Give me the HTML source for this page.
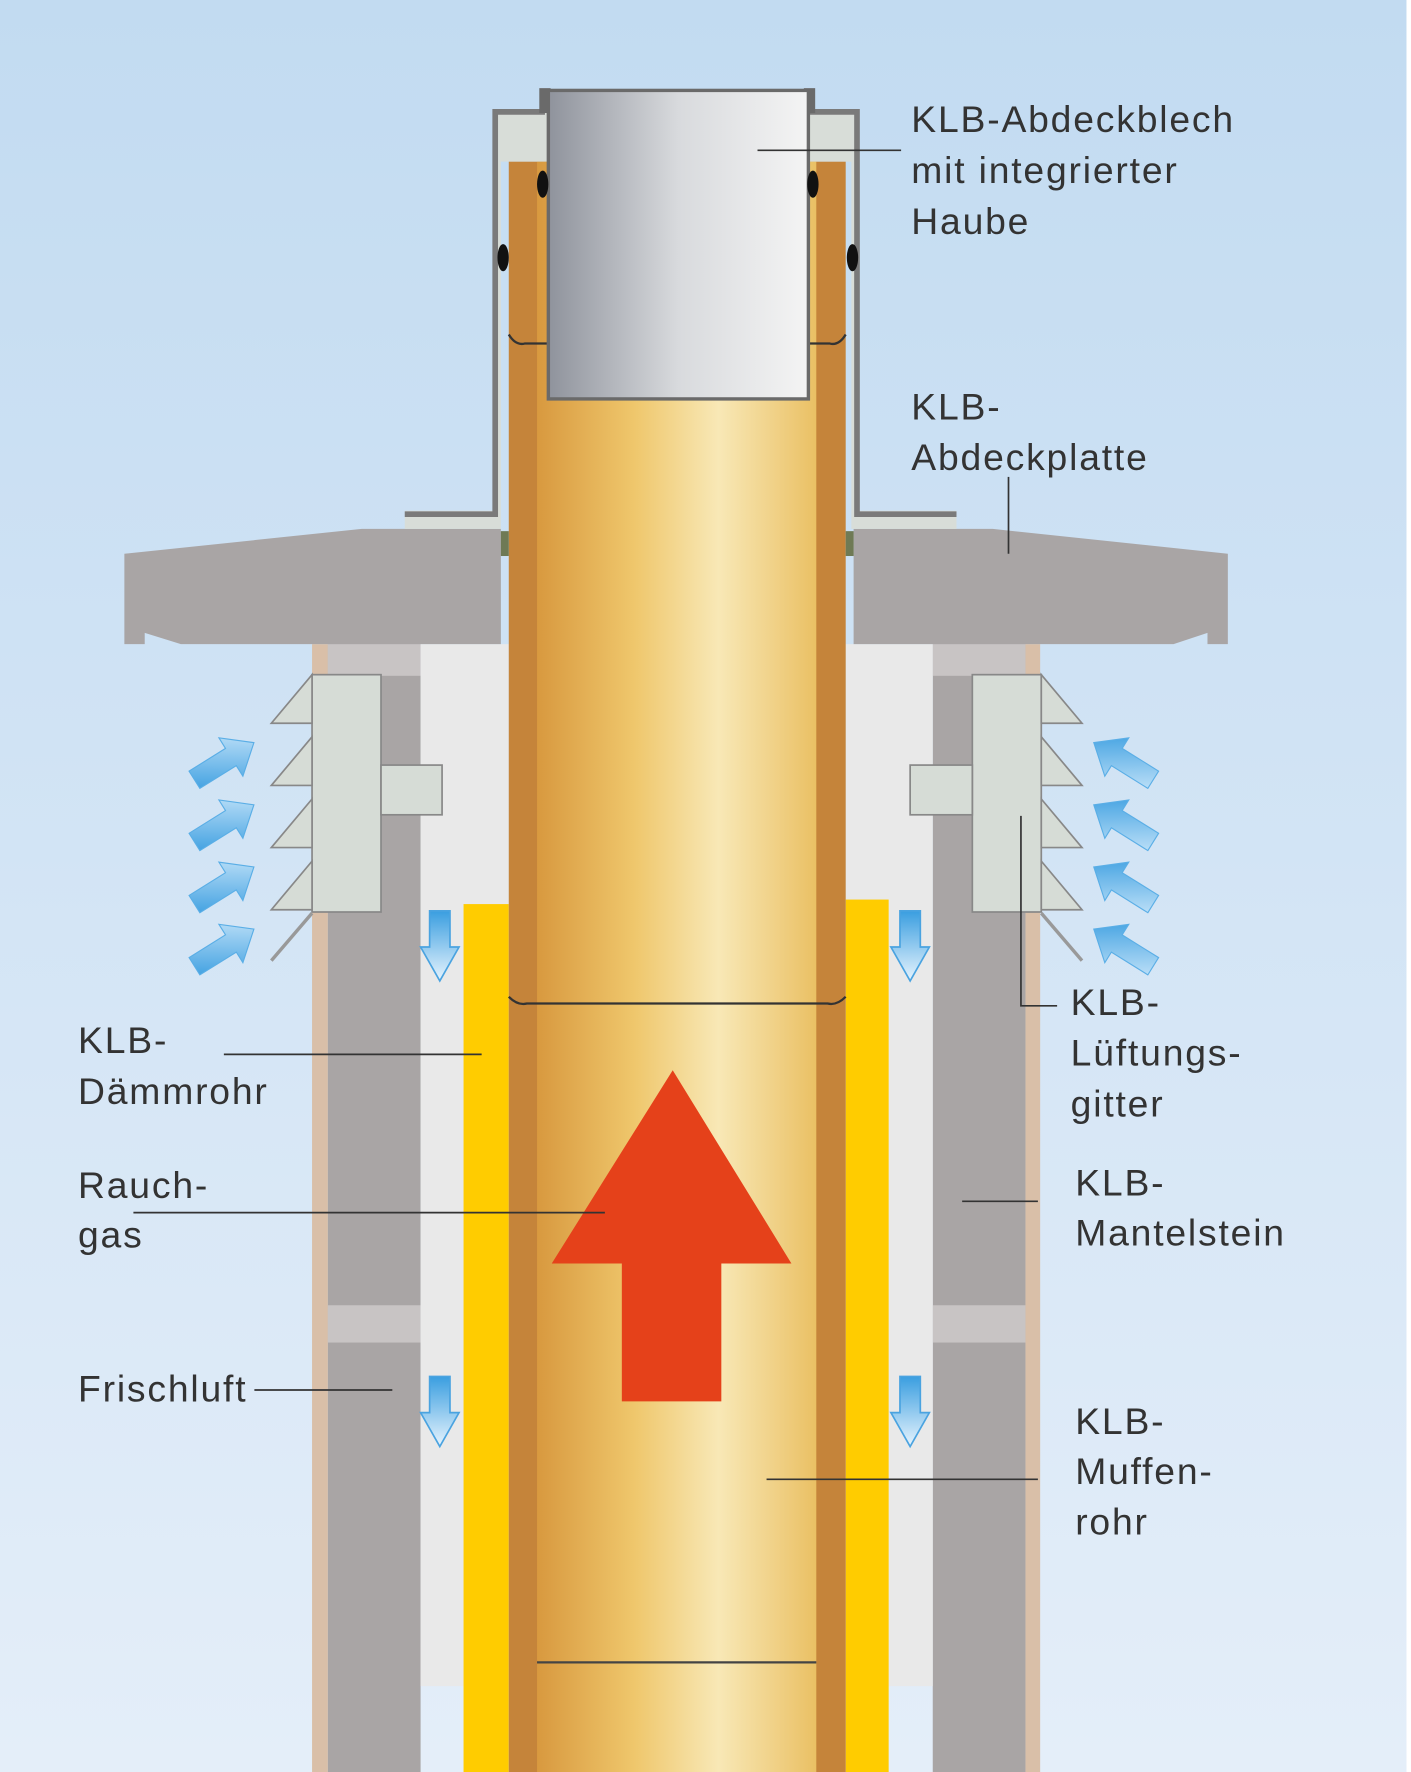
<!DOCTYPE html>
<html><head><meta charset="utf-8"><style>
html,body{margin:0;padding:0;width:1411px;height:1772px;overflow:hidden}
svg{display:block}
text{font-family:"Liberation Sans",sans-serif;font-size:33px;letter-spacing:1.6px;fill:#333}
</style></head><body>
<svg width="1411" height="1772" viewBox="0 0 1248 1568" preserveAspectRatio="none" xmlns="http://www.w3.org/2000/svg">
<defs>
<linearGradient id="bg" x1="0" y1="0" x2="0" y2="1"><stop offset="0" stop-color="#c2dbf1"/><stop offset="1" stop-color="#e4eef9"/></linearGradient>
<linearGradient id="pipe" x1="0" y1="0" x2="1" y2="0"><stop offset="0" stop-color="#d8993f"/><stop offset="0.35" stop-color="#efc76c"/><stop offset="0.65" stop-color="#f8e8b6"/><stop offset="1" stop-color="#eac064"/></linearGradient>
<linearGradient id="steel" x1="0" y1="0" x2="1" y2="0"><stop offset="0" stop-color="#8f939c"/><stop offset="0.5" stop-color="#d8dadd"/><stop offset="1" stop-color="#f4f4f4"/></linearGradient>
<linearGradient id="barr" x1="0" y1="1" x2="1" y2="0"><stop offset="0" stop-color="#2f98de"/><stop offset="1" stop-color="#cfe9fb"/></linearGradient>
<linearGradient id="barl" x1="1" y1="1" x2="0" y2="0"><stop offset="0" stop-color="#2f98de"/><stop offset="1" stop-color="#cfe9fb"/></linearGradient>
<linearGradient id="bdown" x1="0" y1="0" x2="0" y2="1"><stop offset="0" stop-color="#3a9ee0"/><stop offset="1" stop-color="#e8f4fd"/></linearGradient>
<g id="arr"><path d="M0,-9 L38,-9 L38,-20 L62,0 L38,20 L38,9 L0,9 Z"/></g>
<g id="dn"><path d="M-9,0 L9,0 L9,32 L17,32 L0,62 L-17,32 L-9,32 Z" fill="url(#bdown)" stroke="#4aa3e0" stroke-width="1.5"/></g>
</defs>
<rect width="1248" height="1568" fill="url(#bg)"/>
<rect x="1244" y="0" width="4" height="1568" fill="#fff"/>
<rect x="276" y="570" width="14" height="998" fill="#d9bfa8"/>
<rect x="290" y="570" width="82" height="998" fill="#a9a5a5"/>
<rect x="290" y="570" width="82" height="28" fill="#c8c4c4"/>
<rect x="290" y="1155" width="82" height="33" fill="#c8c4c4"/>
<rect x="907" y="570" width="13" height="998" fill="#d9bfa8"/>
<rect x="825" y="570" width="82" height="998" fill="#a9a5a5"/>
<rect x="825" y="570" width="82" height="28" fill="#c8c4c4"/>
<rect x="825" y="1155" width="82" height="33" fill="#c8c4c4"/>
<rect x="372" y="570" width="78" height="922" fill="#e9e9e9"/>
<rect x="748" y="570" width="77" height="922" fill="#e9e9e9"/>
<rect x="410" y="800" width="40" height="768" fill="#ffcc00"/>
<rect x="748" y="796" width="38" height="772" fill="#ffcc00"/>
<rect x="450" y="143" width="298" height="1425" fill="#c5843a"/>
<rect x="475" y="143" width="247" height="1425" fill="url(#pipe)"/>
<path d="M450,882 Q458,890 466,888 L732,888 Q740,890 748,882" fill="none" stroke="#333" stroke-width="2"/>
<line x1="475" y1="1471" x2="722" y2="1471" stroke="#444" stroke-width="2"/>
<path d="M110,490 L320,468 L443,468 L443,570 L160,570 L128,560 L128,570 L110,570 Z" fill="#a9a5a5"/>
<path d="M755,468 L878,468 L1086,490 L1086,570 L1068,570 L1068,560 L1038,570 L755,570 Z" fill="#a9a5a5"/>
<rect x="443" y="470" width="7" height="22" fill="#6f7a55"/>
<rect x="748" y="470" width="7" height="22" fill="#6f7a55"/>
<path d="M358,452 L436,452 L436,97 L487,97 L487,143 L443,143 L443,468 L358,468 Z" fill="#d8ddd8"/>
<path d="M760,97 L711,97 L711,143 L753,143 L753,468 L846,468 L846,452 L760,452 Z" fill="#d8ddd8"/>
<path d="M358,455 L438,455 L438,99 L482,99" fill="none" stroke="#7a7a7a" stroke-width="5"/>
<path d="M846,455 L758,455 L758,99 L716,99" fill="none" stroke="#7a7a7a" stroke-width="5"/>
<rect x="477" y="78" width="10" height="22" fill="#6a6a6a"/>
<rect x="711" y="78" width="10" height="22" fill="#6a6a6a"/>
<path d="M450,296 Q456,306 464,304 L484,304" fill="none" stroke="#333" stroke-width="2"/>
<path d="M748,296 Q742,306 734,304 L714,304" fill="none" stroke="#333" stroke-width="2"/>
<rect x="485" y="80" width="230" height="273" fill="url(#steel)" stroke="#6a6a6a" stroke-width="3"/>
<ellipse cx="480" cy="163" rx="5" ry="12" fill="#111"/>
<ellipse cx="719" cy="163" rx="5" ry="12" fill="#111"/>
<ellipse cx="445" cy="228" rx="5" ry="12" fill="#111"/>
<ellipse cx="754" cy="228" rx="5" ry="12" fill="#111"/>
<g fill="#d6dcd6" stroke="#888" stroke-width="1.5">
<rect x="276" y="597" width="61" height="210"/>
<rect x="337" y="677" width="54" height="44"/>
<path d="M276,597 L240,640 L276,640 Z M276,652 L240,695 L276,695 Z M276,707 L240,750 L276,750 Z M276,762 L240,805 L276,805 Z"/>
<rect x="860" y="597" width="61" height="210"/>
<rect x="805" y="677" width="55" height="44"/>
<path d="M921,597 L957,640 L921,640 Z M921,652 L957,695 L921,695 Z M921,707 L957,750 L921,750 Z M921,762 L957,805 L921,805 Z"/>
</g>
<line x1="276" y1="808" x2="240" y2="850" stroke="#999" stroke-width="3"/>
<line x1="921" y1="808" x2="957" y2="850" stroke="#999" stroke-width="3"/>
<g fill="url(#barr)" stroke="#5aaee6" stroke-width="1">
<use href="#arr" transform="translate(172,690) rotate(-32)"/>
<use href="#arr" transform="translate(172,745) rotate(-32)"/>
<use href="#arr" transform="translate(172,800) rotate(-32)"/>
<use href="#arr" transform="translate(172,855) rotate(-32)"/>
</g>
<g fill="url(#barl)" stroke="#5aaee6" stroke-width="1">
<use href="#arr" transform="translate(1020,690) rotate(-148)"/>
<use href="#arr" transform="translate(1020,745) rotate(-148)"/>
<use href="#arr" transform="translate(1020,800) rotate(-148)"/>
<use href="#arr" transform="translate(1020,855) rotate(-148)"/>
</g>
<use href="#dn" transform="translate(389,806)"/>
<use href="#dn" transform="translate(805,806)"/>
<use href="#dn" transform="translate(389,1218)"/>
<use href="#dn" transform="translate(805,1218)"/>
<path d="M595,947 L700,1118 L638,1118 L638,1240 L550,1240 L550,1118 L488,1118 Z" fill="#e5411a"/>
<g stroke="#333" stroke-width="1.5" fill="none">
<line x1="670" y1="133" x2="797" y2="133"/>
<line x1="892" y1="422" x2="892" y2="490"/>
<path d="M903,722 L903,890 L935,890"/>
<line x1="198" y1="933" x2="426" y2="933"/>
<line x1="118" y1="1073" x2="535" y2="1073"/>
<line x1="225" y1="1230" x2="347" y2="1230"/>
<line x1="851" y1="1063" x2="918" y2="1063"/>
<line x1="678" y1="1309" x2="918" y2="1309"/>
</g>
<text x="806" y="117">KLB-Abdeckblech</text>
<text x="806" y="162">mit integrierter</text>
<text x="806" y="207">Haube</text>
<text x="806" y="371">KLB-</text>
<text x="806" y="416">Abdeckplatte</text>
<text x="947" y="898">KLB-</text>
<text x="947" y="943">Lüftungs-</text>
<text x="947" y="988">gitter</text>
<text x="69" y="932">KLB-</text>
<text x="69" y="977">Dämmrohr</text>
<text x="69" y="1060">Rauch-</text>
<text x="69" y="1104">gas</text>
<text x="951" y="1058">KLB-</text>
<text x="951" y="1102">Mantelstein</text>
<text x="69" y="1240">Frischluft</text>
<text x="951" y="1269">KLB-</text>
<text x="951" y="1313">Muffen-</text>
<text x="951" y="1358">rohr</text>
</svg>
</body></html>
